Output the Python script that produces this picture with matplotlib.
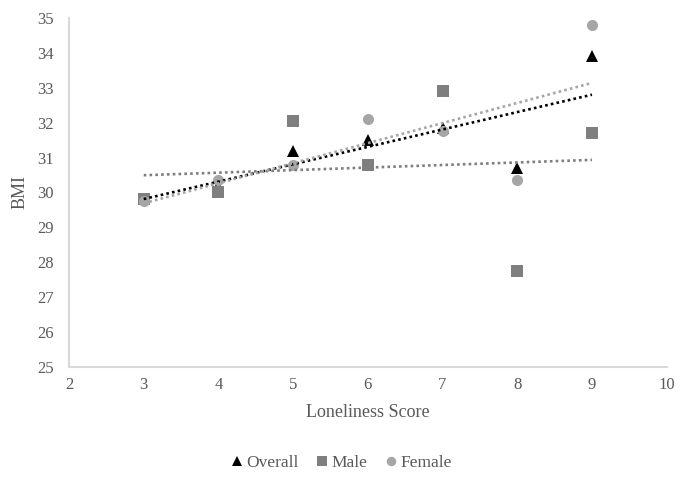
import matplotlib.pyplot as plt
import numpy as np

# Loneliness score vs BMI
scores = [3, 4, 5, 6, 7, 8, 9]
bmi_overall = [29.8, 30.2, 31.2, 31.5, 31.85, 30.7, 33.9]
bmi_male = [29.8, 30.0, 32.05, 30.8, 32.9, 27.75, 31.7]
bmi_female = [29.75, 30.35, 30.8, 32.1, 31.75, 30.35, 34.8]

plt.rcParams['font.family'] = ['Liberation Serif', 'DejaVu Serif']
textColor = '#595959'

fig = plt.figure(figsize=(6.86, 4.82), dpi=100)
ax = fig.add_axes([0.1006, 0.2386, 0.8712, 0.7241])

series = [
    ('Overall', bmi_overall, '^', 'black', 'black'),
    ('Male', bmi_male, 's', '#7f7f7f', '#7f7f7f'),
    ('Female', bmi_female, 'o', '#a6a6a6', '#a6a6a6'),
]

x = np.array(scores)
for name, vals, mk, col, lineCol in series:
    ax.plot(x, vals, linestyle='none', marker=mk, markersize=8,
            color=col, markeredgewidth=0, label=name, zorder=3)

# linear trendlines
for name, vals, mk, col, lineCol in series:
    k, b = np.polyfit(x, vals, 1)
    xs = np.array([x.min(), x.max()])
    ax.plot(xs, k * xs + b, linestyle=(0, (1, 1.2)), linewidth=1.9,
            color=lineCol, zorder=4)

ax.set_xlim(2, 10)
ax.set_ylim(25, 35)
ax.set_xticks(range(2, 11))
ax.set_yticks(range(25, 36))
ax.tick_params(length=0, labelsize=12, labelcolor=textColor)
ax.tick_params(axis='y', pad=11)
ax.tick_params(axis='x', pad=7)

for s in ['top', 'right']:
    ax.spines[s].set_visible(False)
for s in ['left', 'bottom']:
    ax.spines[s].set_color('#d9d9d9')
    ax.spines[s].set_linewidth(1.5)

ax.set_xlabel('Loneliness Score', fontsize=13, color=textColor, labelpad=8)
ax.set_ylabel('BMI', fontsize=13, color=textColor, labelpad=6)

fig.legend(loc='center', bbox_to_anchor=(0.4955, 0.04), ncol=3, frameon=False,
           fontsize=12.5, labelcolor=textColor, handletextpad=0.0,
           columnspacing=0.9, handlelength=1.0, markerscale=0.85)

fig.savefig('out.png', dpi=100)
